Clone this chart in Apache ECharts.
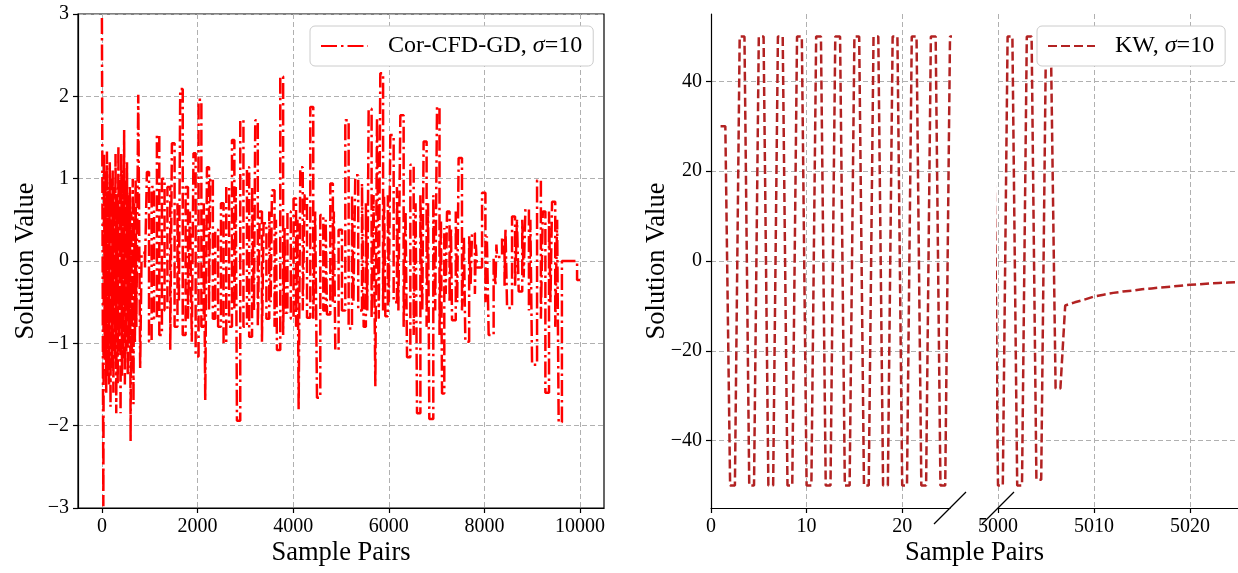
<!DOCTYPE html>
<html><head><meta charset="utf-8">
<script src="https://cdn.jsdelivr.net/npm/echarts@6/dist/echarts.min.js"></script>
<style>html,body{margin:0;padding:0;background:#fff}#c{width:1238px;height:573px}</style>
</head><body><div id="c"></div>
<script>
// ---------------- data ----------------
const corName = 'Cor-CFD-GD, σ=10';
const kwName = 'KW, σ=10';
const xTitle = 'Sample Pairs';
const yTitle = 'Solution Value';

const corX = [
  0, 30, 45, 60, 75, 90, 105, 120, 135, 150,
  165, 180, 195, 210, 225, 240, 255, 270, 285, 300,
  315, 330, 345, 360, 375, 390, 405, 420, 435, 450,
  465, 480, 495, 510, 525, 540, 555, 570, 585, 600,
  615, 630, 645, 660, 675, 690, 705, 720, 740, 760,
  800, 830, 900, 941, 985, 1040, 1090, 1150, 1200, 1255,
  1310, 1370, 1429, 1464, 1520, 1580, 1610, 1638, 1690, 1750,
  1800, 1840, 1880, 1915, 1960, 2021, 2080, 2130, 2161, 2197,
  2240, 2266, 2320, 2370, 2430, 2490, 2544, 2600, 2660, 2720,
  2770, 2800, 2824, 2893, 2960, 3033, 3080, 3140, 3180, 3207,
  3260, 3300, 3347, 3381, 3440, 3500, 3530, 3556, 3610, 3640,
  3661, 3730, 3790, 3820, 3835, 3880, 3950, 4008, 4060, 4090,
  4114, 4149, 4200, 4240, 4289, 4358, 4420, 4460, 4498, 4567,
  4630, 4680, 4707, 4776, 4830, 4850, 4881, 4950, 5020, 5090,
  5160, 5230, 5260, 5299, 5360, 5439, 5474, 5520, 5550, 5578,
  5640, 5680, 5718, 5753, 5790, 5822, 5880, 5900, 5927, 5980,
  6000, 6031, 6101, 6170, 6200, 6241, 6310, 6350, 6381, 6450,
  6520, 6560, 6590, 6660, 6700, 6728, 6790, 6820, 6847, 6930,
  6970, 7008, 7060, 7090, 7113, 7160, 7190, 7217, 7270, 7300,
  7322, 7400, 7430, 7460, 7530, 7570, 7600, 7680, 7710, 7740,
  7800, 7820, 7845, 7950, 8020, 8050, 8088, 8192, 8230, 8250,
  8264, 8368, 8420, 8440, 8473, 8577, 8640, 8680, 8716, 8790,
  8820, 8856, 8930, 8960, 8996, 9100, 9180, 9220, 9274, 9350,
  9380, 9414, 9480, 9520, 9552, 9620, 9937, 10000
];
const corY = [
  2.95, -2.98, 1.3, -1.2, 1.1, -1.6, 1.33, -1.4, 0.9, -1.5,
  1.2, -1.77, 1.0, -1.3, 1.1, -1.6, 0.9, -1.2, 1.3, -1.85,
  0.8, -1.5, 1.4, -1.1, 1.0, -1.85, 1.3, -1.4, 1.1, -1.2,
  1.59, -1.5, 1.0, -1.1, 1.2, -1.4, 0.8, -1.0, 0.9, -2.19,
  0.6, -1.3, 1.0, -1.74, 0.7, -1.0, 1.0, -0.8, 0.5, 2.02,
  -1.3, 0.1, -0.1, 1.08, -0.98, 0.9, -0.7, 1.53, -0.9, 1.0,
  -0.6, 0.9, -1.08, 1.43, -0.8, 0.7, -0.5, 2.09, -0.9, 0.9,
  -0.7, 0.6, -0.98, 1.31, -1.16, 1.96, -0.8, 0.7, -1.69, 1.14,
  -0.6, 1.0, -0.7, 0.38, -0.8, 0.7, -1.0, 0.9, -0.8, 1.47,
  -0.6, 0.9, -1.94, 1.71, -0.8, 1.14, -0.92, 0.9, -0.6, 1.71,
  -0.8, 0.6, -0.98, 0.46, -0.7, 0.6, -0.5, 0.86, -0.8, 0.5,
  -1.08, 2.24, -0.9, 0.4, -0.63, 0.6, -0.7, 0.76, -0.8, 0.5,
  -1.8, 1.14, -0.6, 0.8, -0.69, 1.87, -0.7, 0.6, -1.66, 0.56,
  -0.6, 0.5, -0.65, 0.94, -0.5, 0.6, -1.08, 0.38, -0.6, 1.71,
  -0.82, 0.8, -0.5, 1.04, -0.6, 0.94, -0.8, 0.7, -0.6, 1.85,
  -0.7, 0.8, -1.52, 1.74, -0.7, 2.28, -0.6, 0.8, -0.67, 0.8,
  -0.5, 1.53, -0.5, 0.9, -0.6, 1.77, -0.8, 0.6, -1.17, 1.17,
  -0.9, 0.7, -1.85, 0.8, -0.6, 1.45, -0.8, 0.7, -1.92, 0.8,
  -0.6, 1.87, -0.9, 0.5, -1.61, 0.4, -0.4, 0.6, -0.5, 0.4,
  -0.72, 0.6, -0.5, 1.25, -0.6, 0.3, -0.98, 0.3, -0.3, 0.34,
  -0.4, 0.2, -0.08, 0.83, -0.5, 0.3, -0.9, 0.04, -0.3, 0.2,
  0.05, 0.28, -0.3, 0.4, -0.57, 0.54, -0.3, 0.5, -0.37, 0.5,
  -0.2, 0.63, -0.6, 0.5, -1.26, 0.98, -0.7, 0.6, -1.6, 0.6,
  -0.5, 0.72, -0.8, 0.5, -1.96, 0.0, -0.23, -0.23
];

const kwX1 = [
  1, 1.5, 2, 2.5, 3, 3.5, 4, 4.5, 5, 5.5,
  6, 6.5, 7, 7.5, 8, 8.5, 9, 9.5, 10, 10.5,
  11, 11.5, 12, 12.5, 13, 13.5, 14, 14.5, 15, 15.5,
  16, 16.5, 17, 17.5, 18, 18.5, 19, 19.5, 20, 20.5,
  21, 21.5, 22, 22.5, 23, 23.5, 24, 24.5, 25, 25.5
];
const kwY1 = [
  30, 30, -50, -50, 50, 50, -50, -50, 50, 50,
  -50, -50, 50, 50, -50, -50, 50, 50, -50, -50,
  50, 50, -50, -50, 50, 50, -50, -50, 50, 50,
  -50, -50, 50, 50, -50, -50, 50, 50, -50, -50,
  50, 50, -50, -50, 50, 50, -50, -50, 50, 50
];
const kwX2 = [
  4999.5, 5000, 5000.5, 5001, 5001.5, 5002, 5002.5, 5003, 5003.5, 5004,
  5004.5, 5005, 5005.5, 5006, 5006.5, 5007, 5008, 5009, 5010, 5011,
  5012, 5013, 5014, 5015, 5016, 5017, 5018, 5019, 5020, 5021,
  5022, 5023, 5024, 5025
];
const kwY2 = [
  50, -50, -50, 50, 50, -50, -50, 50, 50, -48.7,
  -48.7, 50, 50, -28.4, -28.4, -9.9, -9.2, -8.6, -7.9, -7.5,
  -7.1, -6.8, -6.6, -6.3, -6.1, -5.9, -5.7, -5.5, -5.3, -5.2,
  -5.0, -4.9, -4.8, -4.7
];

const corXTicks = [0, 2000, 4000, 6000, 8000, 10000];
const corYTicks = [-3, -2, -1, 0, 1, 2, 3];
const kwX1Ticks = [0, 10, 20];
const kwX2Ticks = [5000, 5010, 5020];
const kwYTicks = [-40, -20, 0, 20, 40];

// ---------------- chart ----------------
const FONT = '"Liberation Serif", "Times New Roman", serif';
const zip = (a, b) => a.map((v, i) => [v, b[i]]);
const minus = v => String(v).replace('-', '\u2212');
const gridLine = {show: true, showMinLine: true, showMaxLine: true,
  lineStyle: {color: '#b0b0b0', width: 1, type: [5, 3]}};
const axLine = {show: true, onZero: false, lineStyle: {color: '#000', width: 1.2}};
const tick = vals => ({show: true, inside: false, length: 5, customValues: vals, lineStyle: {color: '#000', width: 1.2}});
const lab = vals => ({customValues: vals, showMinLabel: true, showMaxLabel: true, fontFamily: FONT, fontSize: 20, color: '#000', margin: 9, formatter: minus});

const legendCommon = {
  orient: 'vertical', itemWidth: 47, itemHeight: 14,
  padding: [7, 11, 7, 10],
  backgroundColor: '#ffffff', borderColor: '#cccccc', borderWidth: 1, borderRadius: 5,
  itemStyle: {color: 'rgba(0,0,0,0)', borderColor: 'rgba(0,0,0,0)', borderWidth: 0, opacity: 0},
  textStyle: {fontFamily: FONT, fontSize: 24, color: '#000', lineHeight: 26,
    rich: {g: {width: 15}, i: {fontStyle: 'italic', fontFamily: FONT, fontSize: 24, color: '#000'}}},
  formatter: name => '{g|}' + name.replace('σ', '{i|σ}')
};

const chart = echarts.init(document.getElementById('c'), null, {renderer: 'canvas'});
const option = {
  animation: false,
  backgroundColor: '#fff',
  grid: [
    {left: 78, top: 14, width: 526, height: 494, show: true, borderColor: '#000', borderWidth: 1.2, backgroundColor: 'transparent'},
    {left: 711, top: 14, width: 239, height: 494},
    {left: 998, top: 14, width: 240, height: 494}
  ],
  xAxis: [
    {type: 'value', gridIndex: 0, min: -500, max: 10500, axisLine: axLine, axisTick: tick(corXTicks), axisLabel: lab(corXTicks), splitLine: gridLine},
    {type: 'value', gridIndex: 1, min: 0, max: 25, interval: 10, axisLine: axLine, axisTick: tick(kwX1Ticks), axisLabel: lab(kwX1Ticks), splitLine: gridLine},
    {type: 'value', gridIndex: 2, min: 5000, max: 5025, interval: 10, axisLine: axLine, axisTick: tick(kwX2Ticks), axisLabel: lab(kwX2Ticks), splitLine: gridLine}
  ],
  yAxis: [
    {type: 'value', gridIndex: 0, min: -3, max: 3, interval: 1, axisLine: axLine, axisTick: tick(corYTicks), axisLabel: lab(corYTicks), splitLine: gridLine},
    {type: 'value', gridIndex: 1, min: -55, max: 55, axisLine: axLine, axisTick: tick(kwYTicks), axisLabel: lab(kwYTicks), splitLine: gridLine},
    {type: 'value', gridIndex: 2, min: -55, max: 55, axisLine: {show: false}, axisTick: {show: false, customValues: kwYTicks}, axisLabel: {show: false, customValues: kwYTicks}, splitLine: gridLine}
  ],
  legend: [
    Object.assign({}, legendCommon, {data: [corName], left: 310, top: 26}),
    Object.assign({}, legendCommon, {data: [kwName], left: 1037, top: 26})
  ],
  series: [
    {name: corName, type: 'line', xAxisIndex: 0, yAxisIndex: 0, step: 'end', symbol: 'none', showSymbol: false,
      data: zip(corX, corY), lineStyle: {color: '#ff0000', width: 2.5, type: [16, 4, 2.5, 4]}, itemStyle: {color: '#ff0000'}},
    {name: kwName, type: 'line', xAxisIndex: 1, yAxisIndex: 1, symbol: 'none', showSymbol: false,
      data: zip(kwX1, kwY1), lineStyle: {color: '#b22222', width: 2.5, type: [9, 4]}, itemStyle: {color: '#b22222'}},
    {name: kwName, type: 'line', xAxisIndex: 2, yAxisIndex: 2, symbol: 'none', showSymbol: false,
      data: zip(kwX2, kwY2), lineStyle: {color: '#b22222', width: 2.5, type: [9, 4]}, itemStyle: {color: '#b22222'}}
  ]
};
chart.setOption(option);

// decorations: axis titles and broken-axis marks positioned from the axes
const g0a = chart.convertToPixel({xAxisIndex: 0, yAxisIndex: 0}, [-500, 3]);
const g0b = chart.convertToPixel({xAxisIndex: 0, yAxisIndex: 0}, [10500, -3]);
const g1a = chart.convertToPixel({xAxisIndex: 1, yAxisIndex: 1}, [0, 55]);
const g1b = chart.convertToPixel({xAxisIndex: 1, yAxisIndex: 1}, [25, -55]);
const g2a = chart.convertToPixel({xAxisIndex: 2, yAxisIndex: 2}, [5000, -55]);
const g2b = chart.convertToPixel({xAxisIndex: 2, yAxisIndex: 2}, [5025, -55]);
const titleFont = '26.5px ' + FONT;
const yMid = (g0a[1] + g0b[1]) / 2;
const titleY = g0b[1] + 45;
const txt = (x, y, s, rot) => ({type: 'text', x: x, y: y, rotation: rot || 0,
  style: {text: s, font: titleFont, fill: '#000', align: 'center', verticalAlign: 'middle'}});
const brk = p => ({type: 'line', shape: {x1: p[0] - 16, y1: p[1] + 16, x2: p[0] + 16, y2: p[1] - 16},
  style: {stroke: '#000', lineWidth: 1.2}});
chart.setOption({graphic: [
  txt((g0a[0] + g0b[0]) / 2, titleY, xTitle),
  txt((g1a[0] + g2b[0]) / 2, titleY, xTitle),
  txt(g0a[0] - 52, yMid, yTitle, Math.PI / 2),
  txt(g1a[0] - 54, yMid, yTitle, Math.PI / 2),
  brk(g1b), brk(g2a)
]});
</script></body></html>
